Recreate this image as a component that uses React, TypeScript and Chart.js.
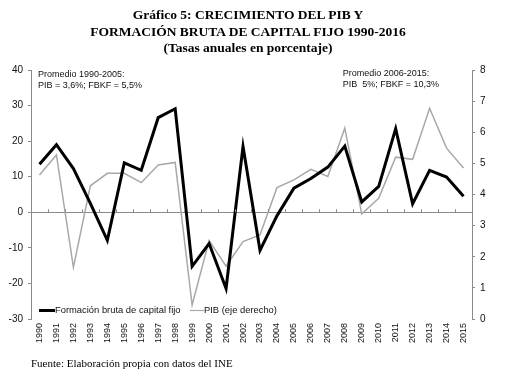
import React, { useEffect, useRef } from "react";
import { Chart, registerables } from "chart.js";

Chart.register(...registerables);

const years = ["1990","1991","1992","1993","1994","1995","1996","1997","1998","1999","2000","2001","2002","2003","2004","2005","2006","2007","2008","2009","2010","2011","2012","2013","2014","2015"];
const fbkf = [13.5, 19.0, 12.3, 2.5, -7.9, 13.9, 11.8, 26.6, 29.1, -15.2, -8.8, -21.4, 18.5, -10.7, -1.0, 6.8, 9.5, 12.7, 18.6, 2.9, 7.3, 23.5, 2.4, 11.8, 9.9, 4.5];
const pib = [4.63, 5.27, 1.66, 4.28, 4.68, 4.68, 4.38, 4.95, 5.03, 0.45, 2.52, 1.70, 2.49, 2.70, 4.22, 4.47, 4.81, 4.58, 6.13, 3.38, 3.88, 5.20, 5.13, 6.77, 5.49, 4.85];

const titleLines = ["Gráfico 5: CRECIMIENTO DEL PIB Y", "FORMACIÓN BRUTA DE CAPITAL FIJO 1990-2016", "(Tasas anuales en porcentaje)"];
const sourceText = "Fuente: Elaboración propia con datos del INE";
const noteLeft = ["Promedio 1990-2005:", "PIB = 3,6%; FBKF = 5,5%"];
const noteRight = ["Promedio 2006-2015:", "PIB  5%; FBKF = 10,3%"];
const seriesLabels = ["Formación bruta de capital fijo", "PIB (eje derecho)"];

const SANS = '"Liberation Sans", Arial, sans-serif';
const AXIS_GRAY = "#8a8a8a";

const overlayPlugin = {
  id: "overlay",
  afterDraw(chart: any) {
    const { ctx, chartArea } = chart;
    const x = chart.scales.x;
    const y = chart.scales.y;
    ctx.save();
    const zeroY = y.getPixelForValue(0);
    const n = years.length;
    const w = (chartArea.right - chartArea.left) / n;
    ctx.strokeStyle = AXIS_GRAY;
    ctx.lineWidth = 1;
    ctx.beginPath();
    for (let i = 1; i < n; i++) {
      const px = Math.round(chartArea.left + i * w) + 0.5;
      ctx.moveTo(px, zeroY);
      ctx.lineTo(px, zeroY - 3);
    }
    ctx.stroke();

    ctx.fillStyle = "#111";
    ctx.font = `9px ${SANS}`;
    ctx.textBaseline = "middle";
    ctx.textAlign = "left";
    ctx.fillText(noteLeft[0], chartArea.left + 7, chartArea.top + 5);
    ctx.fillText(noteLeft[1], chartArea.left + 7, chartArea.top + 16);
    const rx = x.getPixelForValue(18) - 2;
    ctx.fillText(noteRight[0], rx, chartArea.top + 4);
    ctx.fillText(noteRight[1], rx, chartArea.top + 15);

    const ly = chartArea.bottom - 8.5;
    ctx.font = `9.4px ${SANS}`;
    ctx.strokeStyle = "#000";
    ctx.lineWidth = 3;
    ctx.beginPath();
    ctx.moveTo(chartArea.left + 8, ly);
    ctx.lineTo(chartArea.left + 24, ly);
    ctx.stroke();
    ctx.fillText(seriesLabels[0], chartArea.left + 24, ly);
    ctx.strokeStyle = "#a8a8a8";
    ctx.lineWidth = 1.2;
    ctx.beginPath();
    ctx.moveTo(chartArea.left + 159, ly);
    ctx.lineTo(chartArea.left + 173, ly);
    ctx.stroke();
    ctx.fillText(seriesLabels[1], chartArea.left + 173, ly);
    ctx.restore();
  },
};

export default function App() {
  const ref = useRef<HTMLCanvasElement>(null);
  useEffect(() => {
    if (!ref.current) return;
    const chart = new Chart(ref.current, {
      type: "line",
      data: {
        labels: years,
        datasets: [
          {
            label: seriesLabels[0],
            data: fbkf,
            borderColor: "#000",
            borderWidth: 3,
            pointRadius: 0,
            tension: 0,
            yAxisID: "y",
          },
          {
            label: seriesLabels[1],
            data: pib,
            borderColor: "#a8a8a8",
            borderWidth: 1.5,
            pointRadius: 0,
            tension: 0,
            yAxisID: "y1",
          },
        ],
      },
      options: {
        responsive: false,
        animation: false,
        layout: { padding: { top: 70, left: 0, right: 0, bottom: 0 } },
        plugins: { legend: { display: false }, title: { display: false }, tooltip: { enabled: false } },
        scales: {
          x: {
            type: "category",
            offset: true,
            grid: { display: false, drawTicks: false },
            border: { display: false },
            ticks: {
              minRotation: 90,
              maxRotation: 90,
              autoSkip: false,
              padding: 4,
              color: "#111",
              font: { family: SANS, size: 9 },
            },
            afterFit(s: any) { s.height = 62; },
          },
          y: {
            position: "left",
            min: -30,
            max: 40,
            ticks: { stepSize: 10, color: "#111", padding: 5, font: { family: SANS, size: 10 } },
            grid: {
              color: (c: any) => (c.tick && c.tick.value === 0 ? AXIS_GRAY : "rgba(0,0,0,0)"),
              tickColor: AXIS_GRAY,
              tickLength: 3,
            },
            border: { display: true, color: AXIS_GRAY, width: 1 },
            afterFit(s: any) { s.width = 31; },
          },
          y1: {
            position: "right",
            min: 0,
            max: 8,
            ticks: { stepSize: 1, color: "#111", padding: 5, font: { family: SANS, size: 10 } },
            grid: { drawOnChartArea: false, tickColor: AXIS_GRAY, tickLength: 3 },
            border: { display: true, color: AXIS_GRAY, width: 1 },
            afterFit(s: any) { s.width = 43; },
          },
        },
      },
      plugins: [overlayPlugin],
    });
    return () => chart.destroy();
  }, []);

  return (
    <div style={{ position: "absolute", left: 0, top: 0, width: 515, height: 381, background: "#fff", overflow: "hidden" }}>
      <canvas ref={ref} width={515} height={381} style={{ position: "absolute", left: 0, top: 0, width: 515, height: 381 }} />
      <div
        style={{
          position: "absolute",
          left: 0,
          top: 7,
          width: 496,
          textAlign: "center",
          fontFamily: '"Liberation Serif", "Times New Roman", serif',
          fontWeight: "bold",
          fontSize: 13.5,
          lineHeight: "16.5px",
          color: "#000",
        }}
      >
        {titleLines.map((t, i) => (
          <div key={i}>{t}</div>
        ))}
      </div>
      <div
        style={{
          position: "absolute",
          left: 31,
          top: 357,
          fontFamily: '"Liberation Serif", "Times New Roman", serif',
          fontSize: 11,
          color: "#000",
          whiteSpace: "nowrap",
        }}
      >
        {sourceText}
      </div>
    </div>
  );
}
